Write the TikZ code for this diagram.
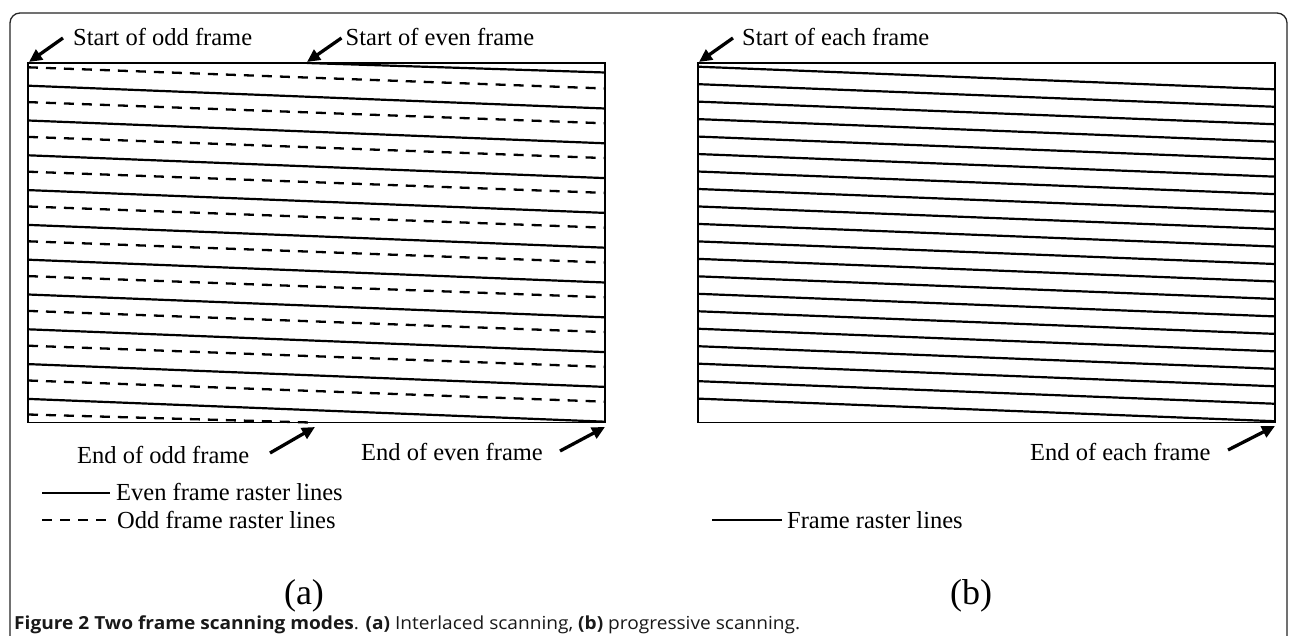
\documentclass[tikz,border=0pt]{standalone}
\usepackage{fontspec}
\setmainfont{Liberation Serif}
\newfontfamily\capfont{Open Sans}
\usetikzlibrary{arrows.meta}

\tikzset{
  outerframe/.style={draw=black!85, line width=1.3pt, rounded corners=10pt},
  panel/.style={draw=black, line width=1.4pt},
  evenline/.style={draw=black, line width=2.2pt},
  oddline/.style={draw=black, line width=2.3pt, dash pattern=on 10pt off 8pt},
  pointer/.style={draw=black, line width=3.3pt, -{Triangle[length=13pt,width=12pt]}},
  lbl/.style={anchor=base west, inner sep=0pt, font=\fontsize{24.5}{29}\selectfont},
  sublbl/.style={anchor=base, inner sep=0pt, font=\fontsize{36}{40}\selectfont},
}

\newlength\capwidth
\newcommand\captiontext{\textbf{Figure 2 Two frame scanning modes}. \textbf{(a)} Interlaced scanning, \textbf{(b)} progressive scanning.}

\begin{document}
% caption is stretched to a fixed width
\settowidth\capwidth{\capfont\fontsize{18}{21}\selectfont\captiontext}%
\pgfmathsetmacro\capscale{786/\capwidth}%
\begin{tikzpicture}[x=1pt, y=-1pt]
  \useasboundingbox (0,0) rectangle (1290,636);
  \fill[white] (0,0) rectangle (1290,636);

  % figure frame, open at the bottom
  \draw[outerframe] (10,720) -- (10,13) -- (1287,13) -- (1287,720);

  % ---------- (a) interlaced scanning ----------
  \coordinate (a-nw) at (28,63);
  \coordinate (a-se) at (605,422.5);
  \draw[panel] (a-nw) rectangle (a-se);

  \foreach \k in {0,...,9} {
    \draw[oddline]  (28,{67.3+34.8*\k}) -- (605,{88.5+34.8*\k});
    \draw[evenline] (28,{85.7+34.8*\k}) -- (605,{108.5+34.8*\k});
  }
  % half lines where the even field starts and the odd field ends
  \draw[evenline] (307,63) -- (605,72.5);
  \draw[oddline]  (28,414.5) -- (310,422.5);

  % start / end markers
  \node[lbl] (so-lbl) at (73,46) {Start of odd frame};
  \coordinate (so-tail) at (63,38);
  \coordinate (so-tip) at (29,62);
  \draw[pointer] (so-tail) -- (so-tip);

  \node[lbl] (se-lbl) at (345.5,46) {Start of even frame};
  \coordinate (se-tail) at (341.5,38);
  \coordinate (se-tip) at (307,62);
  \draw[pointer] (se-tail) -- (se-tip);

  \node[lbl] (eo-lbl) at (77,463) {End of odd frame};
  \coordinate (eo-tail) at (270,453);
  \coordinate (eo-tip) at (315,427);
  \draw[pointer] (eo-tail) -- (eo-tip);

  \node[lbl] (ee-lbl) at (361,460) {End of even frame};
  \coordinate (ee-tail) at (560,451);
  \coordinate (ee-tip) at (605,427);
  \draw[pointer] (ee-tail) -- (ee-tip);

  % legend
  \coordinate (lg-e1) at (42,493);
  \coordinate (lg-e2) at (110,493);
  \draw[evenline] (lg-e1) -- (lg-e2);
  \node[lbl] (lg-even) at (116,500) {Even frame raster lines};
  \coordinate (lg-o1) at (42,520);
  \coordinate (lg-o2) at (110,520);
  \draw[oddline] (lg-o1) -- (lg-o2);
  \node[lbl] (lg-odd) at (117,528) {Odd frame raster lines};

  \node[sublbl] (sub-a) at (304,604) {(a)};

  % ---------- (b) progressive scanning ----------
  \coordinate (b-nw) at (698,63);
  \coordinate (b-se) at (1275,422.5);
  \draw[panel] (b-nw) rectangle (b-se);

  \foreach \k in {0,...,19} {
    \draw[evenline] (698,{66.7+17.47*\k}) -- (1275,{89.3+17.47*\k});
  }

  \node[lbl] (sx-lbl) at (742,46) {Start of each frame};
  \coordinate (sx-tail) at (733,38);
  \coordinate (sx-tip) at (699,62);
  \draw[pointer] (sx-tail) -- (sx-tip);

  \node[lbl] (ex-lbl) at (1030,460) {End of each frame};
  \coordinate (ex-tail) at (1228,450);
  \coordinate (ex-tip) at (1275,426);
  \draw[pointer] (ex-tail) -- (ex-tip);

  \coordinate (lg-f1) at (712,520);
  \coordinate (lg-f2) at (782,520);
  \draw[evenline] (lg-f1) -- (lg-f2);
  \node[lbl] (lg-frame) at (787,528) {Frame raster lines};

  \node[sublbl] (sub-b) at (971,604) {(b)};

  % ---------- caption ----------
  \node[anchor=base west, inner sep=0pt, text=black!90]
    (caption) at (14,629)
    {\scalebox{\capscale}[1]{\capfont\fontsize{18}{21}\selectfont\captiontext}};
\end{tikzpicture}
\end{document}
